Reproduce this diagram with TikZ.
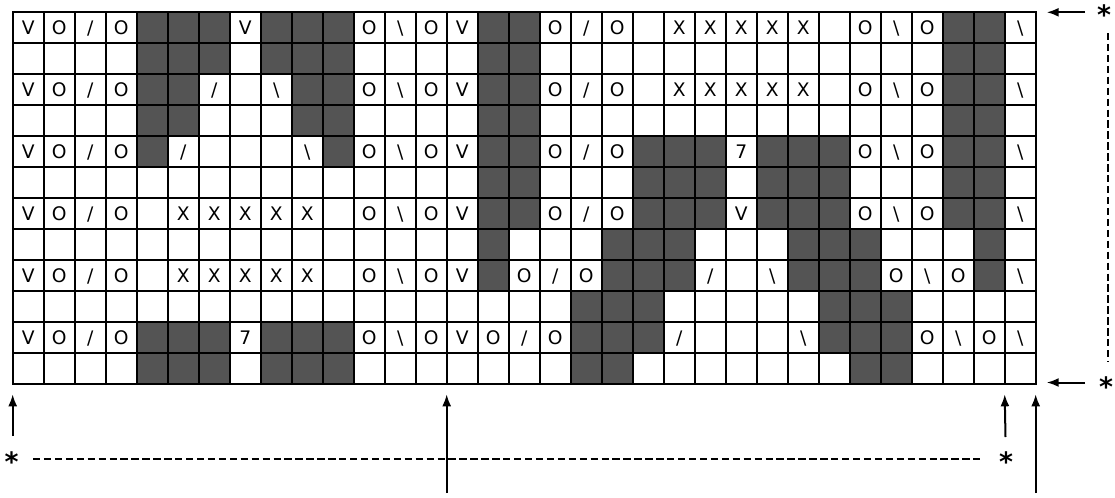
\documentclass[tikz,border=0pt]{standalone}
\usepackage{fontspec}
\setmainfont{DejaVu Sans}
\usetikzlibrary{arrows.meta}
\definecolor{cdark}{HTML}{545454}
\expandafter\def\csname txt@V\endcsname{V}
\expandafter\def\csname txt@O\endcsname{O}
\expandafter\def\csname txt@X\endcsname{X}
\expandafter\def\csname txt@7\endcsname{7}
\expandafter\def\csname txt@s\endcsname{/}
\expandafter\def\csname txt@b\endcsname{\textbackslash}
\expandafter\def\csname txt@D\endcsname{}
\expandafter\def\csname txt@-\endcsname{}
\begin{document}
\begin{tikzpicture}[x=0.75pt,y=-0.75pt,
  cell/.style={draw,line width=1.7pt,minimum size=23.25pt,inner sep=0pt,outer sep=0pt,
    anchor=north west,font=\fontsize{14}{14}\selectfont,text height=10.2pt,text depth=0pt},
  tk D/.style={fill=cdark},
  tk -/.style={}, tk V/.style={}, tk O/.style={}, tk X/.style={},
  tk 7/.style={}, tk s/.style={}, tk b/.style={},
  arr/.style={line width=1.5pt,-{Latex[length=9pt,width=6.75pt]}},
  dsh/.style={line width=1pt,dash pattern=on 5.5pt off 2.7pt},
  star/.style={inner sep=0pt,outer sep=0pt,anchor=north,font=\fontsize{20}{20}\selectfont\bfseries}]
\useasboundingbox (0,0) rectangle (1115,497);
\fill[white] (0,0) rectangle (1115,497);
\foreach \row [count=\r from 0] in {%
{V,O,s,O,D,D,D,V,D,D,D,O,b,O,V,D,D,O,s,O,-,X,X,X,X,X,-,O,b,O,D,D,b},%
{-,-,-,-,D,D,D,-,D,D,D,-,-,-,-,D,D,-,-,-,-,-,-,-,-,-,-,-,-,-,D,D,-},%
{V,O,s,O,D,D,s,-,b,D,D,O,b,O,V,D,D,O,s,O,-,X,X,X,X,X,-,O,b,O,D,D,b},%
{-,-,-,-,D,D,-,-,-,D,D,-,-,-,-,D,D,-,-,-,-,-,-,-,-,-,-,-,-,-,D,D,-},%
{V,O,s,O,D,s,-,-,-,b,D,O,b,O,V,D,D,O,s,O,D,D,D,7,D,D,D,O,b,O,D,D,b},%
{-,-,-,-,-,-,-,-,-,-,-,-,-,-,-,D,D,-,-,-,D,D,D,-,D,D,D,-,-,-,D,D,-},%
{V,O,s,O,-,X,X,X,X,X,-,O,b,O,V,D,D,O,s,O,D,D,D,V,D,D,D,O,b,O,D,D,b},%
{-,-,-,-,-,-,-,-,-,-,-,-,-,-,-,D,-,-,-,D,D,D,-,-,-,D,D,D,-,-,-,D,-},%
{V,O,s,O,-,X,X,X,X,X,-,O,b,O,V,D,O,s,O,D,D,D,s,-,b,D,D,D,O,b,O,D,b},%
{-,-,-,-,-,-,-,-,-,-,-,-,-,-,-,-,-,-,D,D,D,-,-,-,-,-,D,D,D,-,-,-,-},%
{V,O,s,O,D,D,D,7,D,D,D,O,b,O,V,O,s,O,D,D,D,s,-,-,-,b,D,D,D,O,b,O,b},%
{-,-,-,-,D,D,D,-,D,D,D,-,-,-,-,-,-,-,D,D,-,-,-,-,-,-,-,D,D,-,-,-,-}}{%
  \foreach \t [count=\c from 0] in \row {%
    \node[cell,tk \t] (cell-\r-\c) at ({12.7+31*\c},{12.3+31*\r}) {\csname txt@\t\endcsname};
  }
}
% right side
\coordinate (trA) at (1085,12.3);
\coordinate (trB) at (1046.7,12.3);
\draw[arr] (trA) -- (trB);
\node[star] (sTR) at (1104,5) {*};
\coordinate (vA) at (1108,33);
\coordinate (vB) at (1108,362);
\draw[dsh] (vA) -- (vB);
\coordinate (brA) at (1085,382.5);
\coordinate (brB) at (1046.7,382.5);
\draw[arr] (brA) -- (brB);
\node[star] (sBR) at (1106,377) {*};
% bottom
\coordinate (a1A) at (12.7,436);
\coordinate (a1B) at (12.7,394.3);
\draw[arr] (a1A) -- (a1B);
\coordinate (a2A) at (446.7,493);
\coordinate (a2B) at (446.7,394.3);
\draw[arr] (a2A) -- (a2B);
\coordinate (a3A) at (1005.5,437);
\coordinate (a3B) at (1004.7,394.3);
\draw[arr] (a3A) -- (a3B);
\coordinate (a4A) at (1035.7,493);
\coordinate (a4B) at (1035.7,394.3);
\draw[arr] (a4A) -- (a4B);
\node[star] (sBL) at (11.7,451.5) {*};
\node[star] (sBM) at (1006,451.5) {*};
\coordinate (hA) at (33,459);
\coordinate (hB) at (980,459);
\draw[dsh] (hA) -- (hB);
\end{tikzpicture}
\end{document}
